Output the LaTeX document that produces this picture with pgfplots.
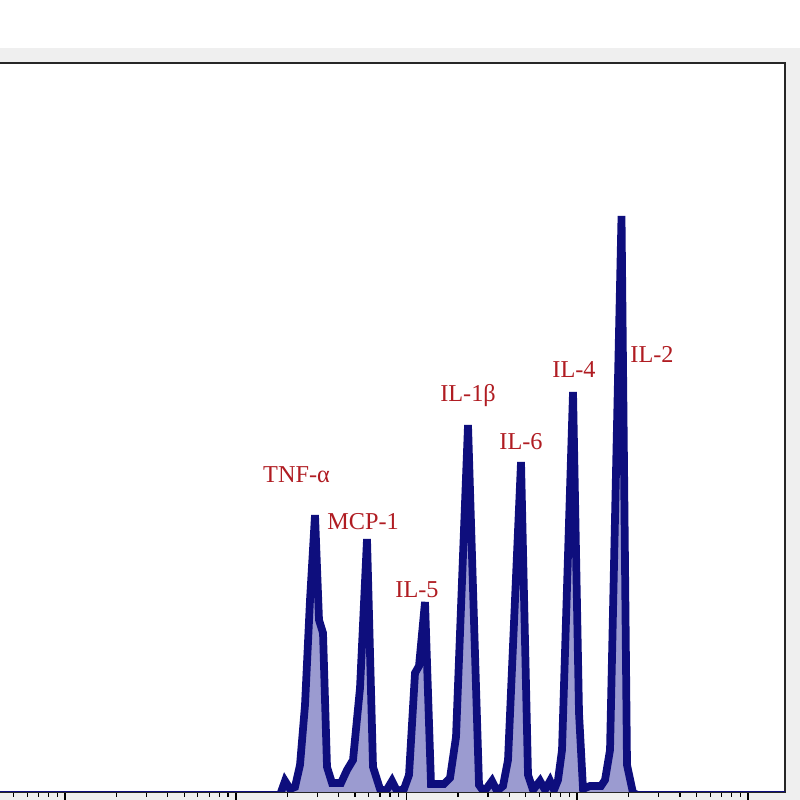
\documentclass[border=0pt]{standalone}
\usepackage{pgfplots}
\usepackage{pgfplotstable}
\pgfplotsset{compat=1.18}
\usepackage{fontspec}
\setmainfont{Liberation Serif}

\definecolor{histline}{RGB}{14,14,125}
\definecolor{histfill}{RGB}{155,155,208}
\definecolor{labelred}{RGB}{176,28,34}
\definecolor{panelgray}{RGB}{239,239,239}

% channel (x) vs. event count (y)
\pgfplotstableread{
x v
-105.75 -3
280 -3
285 11
290 3
295 5
300 27
305 87
310 192
315 277
319 172
323 159
327 25
332 9
341 9
347 22
353 32
360 104
367 253
373 25
380 3
386 1
392 11
397 1
404 3
409 17
415 119
419 126
425 190
431 8
444 8
450 14
456 55
468 367
479 7
484 0
492 11
497 1
503 6
508 32
521 330
528 17
533 2
540 11
545 2
550 11
554 2
558 12
562 42
573 400
579 79
583 3
590 6
601 6
605 12
610 42
621.5 576
627 27
633 -1
638 -3
785 -3
}\histdata

\begin{document}
\begin{tikzpicture}
% visible window, 800 x 800 px at 0.02 cm per px
\useasboundingbox (2.115,-0.16) rectangle (18.115,15.84);
\clip (2.115,-0.16) rectangle (18.115,15.84);
\fill[white] (2.115,-0.16) rectangle (18.115,15.84);
\fill[panelgray] (-1,-1) rectangle (19,14.88);

\begin{axis}[
    at={(0,0)}, anchor=south west,
    scale only axis,
    width=17.815cm, height=14.58cm,
    xmin=-105.75, xmax=785,
    ymin=0, ymax=729,
    axis background/.style={fill=white},
    axis line style={black!85, line width=0.9pt},
    xtick={-105.75,65,235.75,406.5,577.25,748},
    xticklabels={},
    minor xtick={-54.35,-24.28,-2.95,13.6,27.12,38.55,48.45,57.19,
        116.4,146.47,167.8,184.35,197.87,209.3,219.2,227.94,
        287.15,317.22,338.55,355.1,368.62,380.05,389.95,398.69,
        457.9,487.97,509.3,525.85,539.37,550.8,560.7,569.44,
        628.65,658.72,680.05,696.6,710.12,721.55,731.45,740.19},
    ytick=\empty,
    xtick pos=left,
    tick align=outside,
    major tick length=0.24cm,
    minor tick length=0.1cm,
    every tick/.append style={black},
    major tick style={line width=1.1pt},
    minor tick style={line width=0.7pt},
]

\addplot[draw=none, fill=histfill] table[x=x, y=v] {\histdata} \closedcycle;
\addplot[histline, line width=4.4pt] table[x=x, y=v] {\histdata};

\begin{scope}[every node/.style={text=labelred, anchor=base,
        font=\fontsize{13.8}{16}\selectfont}]
\node at (axis cs:296.5,309) {TNF-α};
\node at (axis cs:363,262) {MCP-1};
\node at (axis cs:417,194) {IL-5};
\node at (axis cs:468,390) {IL-1β};
\node at (axis cs:521,342) {IL-6};
\node at (axis cs:574,414) {IL-4};
\node at (axis cs:652,429) {IL-2};
\end{scope}
\end{axis}
\end{tikzpicture}
\end{document}
